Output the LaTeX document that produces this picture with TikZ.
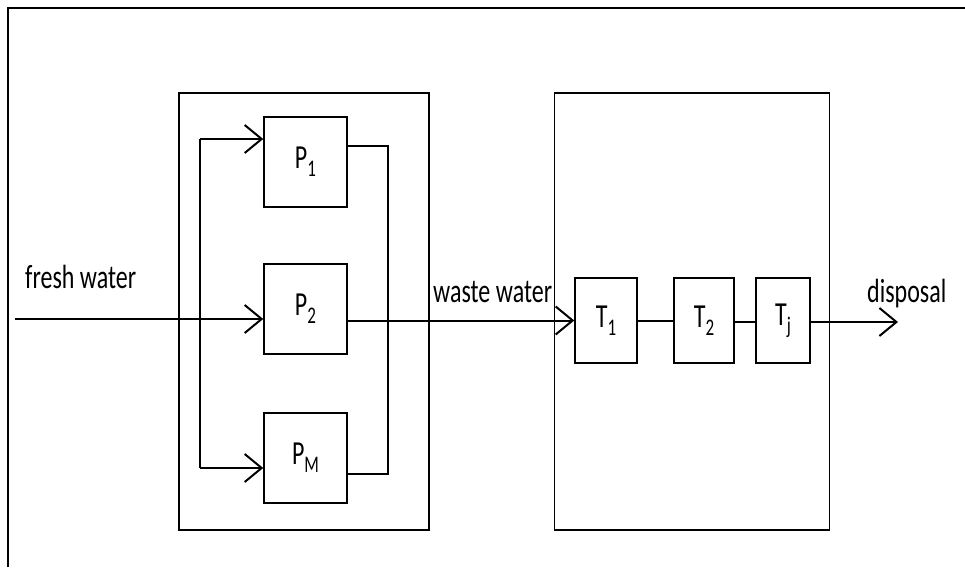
\documentclass[tikz,border=0pt]{standalone}
\usepackage{graphicx}
\usepackage{fontspec}
\setmainfont{Carlito}
\usetikzlibrary{arrows.meta,positioning}
\newcommand{\tall}[1]{\scalebox{1}[1.4]{#1}}
\newcommand{\lowsub}[1]{\raisebox{-0.24em}{\fontsize{17}{20}\selectfont #1}}

\begin{document}
\begin{tikzpicture}[x=1pt,y=-1pt,
  font=\fontsize{24}{28}\selectfont,
  unitbox/.style={draw,line width=1.5pt,inner sep=0pt,minimum height=90pt,minimum width=83pt},
  tankbox/.style={draw,line width=1.5pt,inner sep=0pt,minimum height=85pt},
  plant/.style={draw,line width=1.5pt,inner sep=0pt,minimum height=437pt},
  flow/.style={line width=2pt},
  arr/.style={flow,-{Straight Barb[length=17pt,width=28pt,line width=2pt]}}]
\useasboundingbox (0,0) rectangle (965,567);
\draw[line width=1.5pt] (8,567) -- (8,8) -- (965,8);

% process and treatment plants
\node[plant,minimum width=250pt] (proc) at (304,311.5) {};
\node[plant,minimum width=275pt] (treat) at (692,311.5) {};

% process units
\node[unitbox] (p1) at (305.5,162) {\tall{P\lowsub{1}}};
\node[unitbox] (p2) at (305.5,309) {\tall{P\lowsub{2}}};
\node[unitbox] (pm) at (305.5,458) {\tall{P\lowsub{M}}};

% treatment units
\node[tankbox,minimum width=62pt] (t1) at (606,320.5) {\tall{T\lowsub{1}}};
\node[tankbox,minimum width=60pt] (t2) at (704,320.5) {\tall{T\lowsub{2}}};
\node[tankbox,minimum width=54pt] (tj) at (783,320.5) {\tall{T\lowsub{j}}};

\coordinate (in) at (15,319);
\coordinate (ftop) at (200,139);
\coordinate (fbot) at (200,468);
\coordinate (ctop) at (388,146);
\coordinate (cbot) at (388,474);
\coordinate (out) at (898,322);

% labels
\node[anchor=base west,inner sep=0pt] (fw) at (25,288) {\tall{fresh water}};
\node[anchor=base west,inner sep=0pt] (ww) at (433,302) {\tall{waste water}};
\node[anchor=base west,inner sep=0pt] (dp) at (867,302) {\tall{disposal}};

% fresh water split
\draw[arr] (in) -- (p2.west |- in);
\draw[flow] (ftop) -- (fbot);
\draw[arr] (ftop) -- (p1.west |- ftop);
\draw[arr] (fbot) -- (pm.west |- fbot);

% waste water collection
\draw[line width=1.5pt] (p1.east |- ctop) -- (ctop) -- (cbot) -- (pm.east |- cbot);
\draw[arr] (p2.east |- t1.west) -- (t1.west);

% treatment train
\draw[flow] (t1) -- (t2);
\draw[flow] (t2.east |- out) -- (tj.west |- out);
\draw[arr] (tj.east |- out) -- (out);
\end{tikzpicture}
\end{document}
